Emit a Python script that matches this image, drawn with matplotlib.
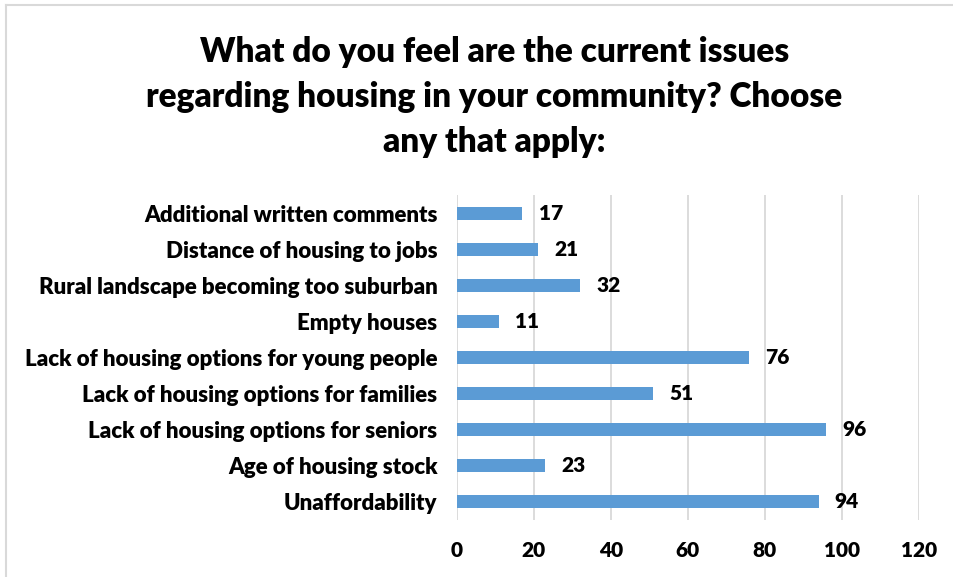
import matplotlib.pyplot as plt
from matplotlib.lines import Line2D

# survey responses, listed bottom to top as drawn
issues = [
    "Unaffordability",
    "Age of housing stock",
    "Lack of housing options for seniors",
    "Lack of housing options for families",
    "Lack of housing options for young people",
    "Empty houses",
    "Rural landscape becoming too suburban",
    "Distance of housing to jobs",
    "Additional written comments",
]
counts = [94, 23, 96, 51, 76, 11, 32, 21, 17]
x_ticks = [0, 20, 40, 60, 80, 100, 120]

W = 'heavy'
plt.rcParams['font.family'] = ['Lato', 'DejaVu Sans']
plt.rcParams['font.weight'] = W

fig = plt.figure(figsize=(9.54, 5.77), dpi=100)
ax = fig.add_axes([0.479, 0.099, 0.484, 0.563])

y = range(len(issues))
bars = ax.barh(y, counts, height=0.36, color='#5B9BD5', zorder=3)
for b, v in zip(bars, counts):
    ax.text(v + 4.2, b.get_y() + b.get_height() / 2, str(v),
            va='center', ha='left', fontsize=15, fontweight=W)

ax.set_xlim(0, 120)
ax.set_ylim(-0.5, len(issues) - 0.5)
ax.set_xticks(x_ticks)
ax.set_yticks(list(y))
ax.set_yticklabels(issues)
ax.tick_params(axis='x', length=0, labelsize=15, pad=15)
ax.tick_params(axis='y', length=0, labelsize=16, pad=14)
for lbl in ax.get_xticklabels() + ax.get_yticklabels():
    lbl.set_fontweight(W)

ax.grid(axis='x', color='#D9D9D9', linewidth=1.3, zorder=0)
for s in ax.spines.values():
    s.set_visible(False)

fig.suptitle("What do you feel are the current issues\n"
             "regarding housing in your community? Choose\n"
             "any that apply:",
             x=0.518, y=0.938, fontsize=24, fontweight=W, linespacing=1.5)

# chart area border along the top and left edges
fig.add_artist(Line2D([0.006, 1.0], [0.991, 0.991], color='#D9D9D9', lw=1.5,
                      transform=fig.transFigure))
fig.add_artist(Line2D([0.006, 0.006], [0.0, 0.991], color='#D9D9D9', lw=1.5,
                      transform=fig.transFigure))

fig.savefig('out.png', dpi=100)
